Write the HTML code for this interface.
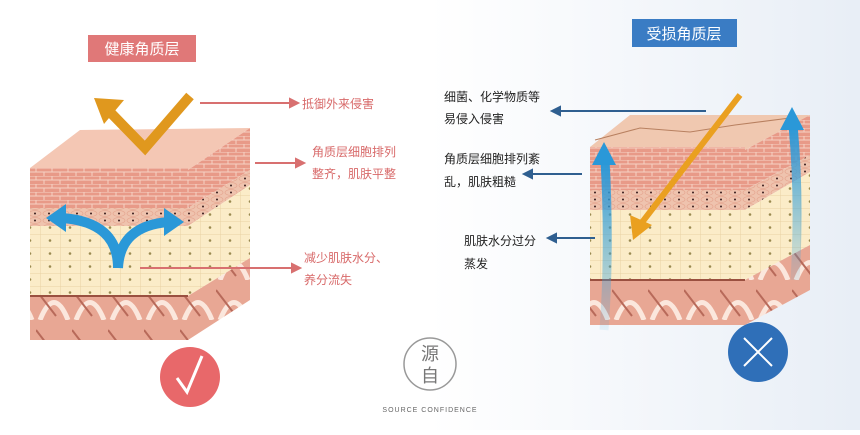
<!DOCTYPE html>
<html><head><meta charset="utf-8"><style>
body{margin:0;width:860px;height:430px;overflow:hidden;background:#fff;font-family:"Liberation Sans","Noto Sans CJK SC",sans-serif;}
</style></head><body>
<svg width="860" height="430" viewBox="0 0 860 430" xmlns="http://www.w3.org/2000/svg" font-family="Liberation Sans, Noto Sans CJK SC, sans-serif">
<defs>
<linearGradient id="bg" x1="0" x2="1"><stop offset="0.5" stop-color="#fff"/><stop offset="1" stop-color="#e8eef6"/></linearGradient>
<pattern id="brick" width="16" height="8" patternUnits="userSpaceOnUse"><rect width="16" height="8" fill="#e89a88"/><path d="M0 0H16M0 4H16M4 0V4M12 4V8" stroke="#f6d2c4" stroke-width="1"/></pattern>
<pattern id="dots" width="14" height="7" patternUnits="userSpaceOnUse"><rect width="14" height="7" fill="#efc3ae"/><ellipse cx="7" cy="3.5" rx="6" ry="3" fill="none" stroke="#e6a892" stroke-width="0.7"/><circle cx="7" cy="3.5" r="1" fill="#3a2020"/></pattern>
<pattern id="cells" width="20" height="13" patternUnits="userSpaceOnUse"><rect width="20" height="13" fill="#fbecc8"/><path d="M0 0H20M0 0V13" stroke="#e8d2a4" stroke-width="1"/><circle cx="10" cy="6.5" r="1.3" fill="#9a8a50"/></pattern>
<pattern id="derm" width="36" height="40" patternUnits="userSpaceOnUse"><rect width="36" height="40" fill="#e8a794"/><path d="M4 40 Q18 5 32 40" fill="none" stroke="#fbe7dd" stroke-width="5"/><path d="M0 10 L20 36" stroke="#b86a5a" stroke-width="2"/></pattern>
<linearGradient id="blueFade" x1="0" y1="1" x2="0" y2="0"><stop offset="0" stop-color="#3aa8e0" stop-opacity="0.1"/><stop offset="1" stop-color="#2a98d8"/></linearGradient>
</defs>
<rect width="860" height="430" fill="url(#bg)"/>

<!-- LEFT CUBE -->
<polygon points="30,168 80,130 250,128 188,170" fill="#f4c7b4"/>
<rect x="30" y="168" width="158" height="40" fill="url(#brick)"/>
<rect x="30" y="208" width="158" height="18" fill="url(#dots)"/>
<rect x="30" y="226" width="158" height="70" fill="url(#cells)"/>
<rect x="30" y="296" width="158" height="44" fill="url(#derm)"/>
<line x1="30" y1="296" x2="188" y2="296" stroke="#9a5040" stroke-width="2"/>
<polygon points="188,170 250,128 250,170 188,208" fill="url(#brick)"/>
<polygon points="188,208 250,170 250,185 188,226" fill="url(#dots)"/>
<polygon points="188,226 250,185 250,258 188,296" fill="url(#cells)"/>
<polygon points="188,296 250,258 250,300 188,340" fill="url(#derm)"/>
<path d="M190 96 L145 148 L110 112" fill="none" stroke="#e0981e" stroke-width="10"/>
<polygon points="94,98 124,100 104,124" fill="#e0981e"/>
<path d="M118 268 Q118 222 62 218 M118 268 Q120 226 168 222" fill="none" stroke="#2a98d8" stroke-width="10"/>
<polygon points="46,218 66,204 66,232" fill="#2a98d8"/>
<polygon points="184,222 164,208 164,236" fill="#2a98d8"/>

<rect x="88" y="35" width="108" height="27" fill="#e07878"/>
<text x="142" y="54" fill="#fff" font-size="15" text-anchor="middle">健康角质层</text>
<g stroke="#d87070" stroke-width="2" fill="#d87070">
<line x1="200" y1="103" x2="292" y2="103"/><polygon points="298,103 290,99 290,107"/>
<line x1="255" y1="163" x2="298" y2="163"/><polygon points="304,163 296,159 296,167"/>
<line x1="140" y1="268" x2="294" y2="268"/><polygon points="300,268 292,264 292,272"/>
</g>
<g fill="#d86a6a" font-size="12">
<text x="302" y="108">抵御外来侵害</text>
<text x="312" y="156">角质层细胞排列</text>
<text x="312" y="178">整齐，肌肤平整</text>
<text x="304" y="262">减少肌肤水分、</text>
<text x="304" y="284">养分流失</text>
</g>
<circle cx="190" cy="377" r="30" fill="#e8686a"/>
<path d="M177 378 L187 392 L202 356" fill="none" stroke="#fff" stroke-width="3"/>

<!-- RIGHT CUBE -->
<polygon points="590,147 630,115 810,115 745,150" fill="#f0c8b0"/>
<path d="M595 140 L640 128 L690 132 L735 125 L790 118" stroke="#b88060" fill="none"/>
<rect x="590" y="147" width="155" height="43" fill="url(#brick)"/>
<rect x="590" y="190" width="155" height="20" fill="url(#dots)"/>
<rect x="590" y="210" width="155" height="70" fill="url(#cells)"/>
<rect x="590" y="280" width="155" height="45" fill="url(#derm)"/>
<line x1="590" y1="280" x2="745" y2="280" stroke="#9a5040" stroke-width="2"/>
<polygon points="745,150 810,115 810,155 745,190" fill="url(#brick)"/>
<polygon points="745,190 810,155 810,172 745,210" fill="url(#dots)"/>
<polygon points="745,210 810,172 810,245 745,280" fill="url(#cells)"/>
<polygon points="745,280 810,245 810,290 745,325" fill="url(#derm)"/>
<line x1="740" y1="95" x2="640" y2="225" stroke="#eaa020" stroke-width="6"/>
<polygon points="633,240 630,215 652,225" fill="#eaa020"/>
<path d="M604 330 Q610 250 605 160" fill="none" stroke="url(#blueFade)" stroke-width="9"/>
<polygon points="604,142 592,165 616,165" fill="#2a98d8"/>
<path d="M795 280 Q800 200 793 125" fill="none" stroke="url(#blueFade)" stroke-width="9"/>
<polygon points="792,107 780,130 804,130" fill="#2a98d8"/>

<rect x="632" y="19" width="105" height="28" fill="#3a7cc4"/>
<text x="684" y="39" fill="#fff" font-size="15" text-anchor="middle">受损角质层</text>
<g stroke="#2f5f90" stroke-width="2" fill="#2f5f90">
<line x1="706" y1="111" x2="560" y2="111"/><polygon points="552,111 560,107 560,115"/>
<line x1="582" y1="174" x2="532" y2="174"/><polygon points="524,174 532,170 532,178"/>
<line x1="595" y1="238" x2="556" y2="238"/><polygon points="548,238 556,234 556,242"/>
</g>
<g fill="#222" font-size="12">
<text x="444" y="101">细菌、化学物质等</text>
<text x="444" y="123">易侵入侵害</text>
<text x="444" y="163">角质层细胞排列紊</text>
<text x="444" y="186">乱，肌肤粗糙</text>
<text x="464" y="245">肌肤水分过分</text>
<text x="464" y="268">蒸发</text>
</g>
<circle cx="758" cy="352" r="30" fill="#2f6fb8"/>
<path d="M744 338 L772 366 M772 338 L744 366" stroke="#fff" stroke-width="2"/>

<circle cx="430" cy="364" r="26" fill="none" stroke="#999" stroke-width="1.5"/>
<text x="430" y="360" font-size="18" fill="#777" text-anchor="middle">源</text>
<text x="430" y="382" font-size="18" fill="#777" text-anchor="middle">自</text>
<text x="430" y="412" font-size="7" fill="#666" text-anchor="middle" letter-spacing="1">SOURCE CONFIDENCE</text>
</svg>
</body></html>
